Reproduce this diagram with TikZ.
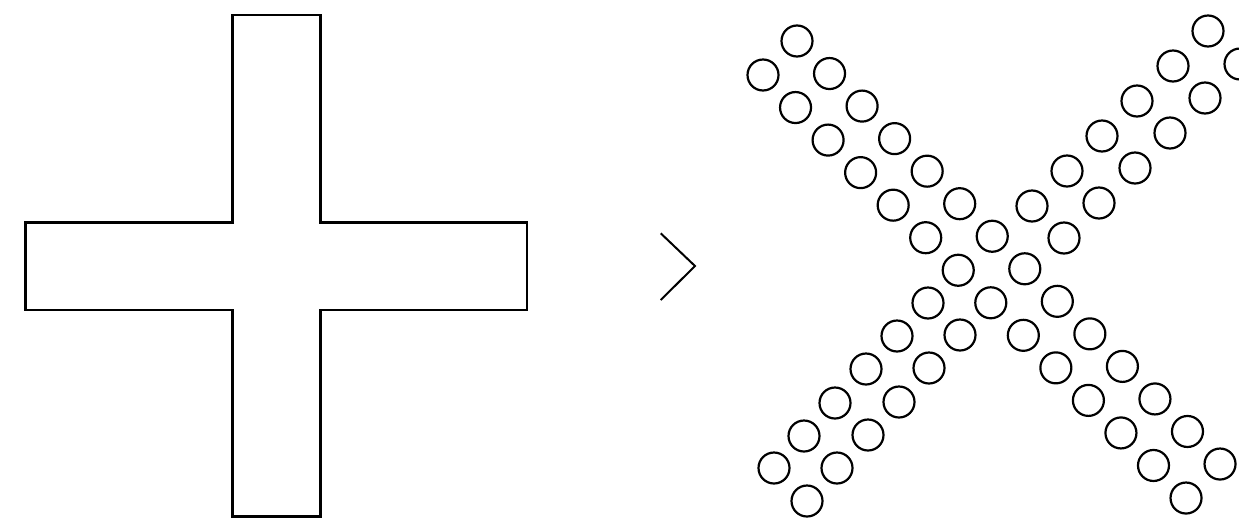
\documentclass[tikz,border=0pt]{standalone}
\usetikzlibrary{positioning}

\begin{document}
\begin{tikzpicture}[x=1pt,y=-1pt,
    outline/.style={draw=black,line width=2.6pt,line join=miter},
    ring/.style={draw=black,line width=2.2pt},
    chevron/.style={draw=black,line width=2pt}]
  \useasboundingbox (0,0) rectangle (1239,520);
  \clip (0,0) rectangle (1239,520);
  \draw[outline] (232.7,15) -- (320.3,15) -- (320.3,222.3) -- (527,222.3)
    -- (527,310) -- (320.3,310) -- (320.3,516.5) -- (232.7,516.5)
    -- (232.7,310) -- (25.3,310) -- (25.3,222.3) -- (232.7,222.3) -- cycle;
  \coordinate (chtop) at (660.7,233.3);
  \coordinate (chtip) at (695,266);
  \coordinate (chbot) at (660.7,300);
  \draw[chevron] (chtop) -- (chtip) -- (chbot);
  \foreach \k in {0,...,13}{
    \draw[ring] ({797+32.54*\k},{41+32.54*\k}) circle[radius=15.5pt];
    \draw[ring] ({763+32.54*\k},{75+32.54*\k}) circle[radius=15.5pt];
  }
  \foreach \px/\py in {1208/31,1173/66,1137/101,1102/136,1067/171,1032/206,
      928/303,897/336,866/369,835/403,804/436,774/468,
      1240/64,1205/98,1170/133,1135/168,1099/203,1064/238,
      960/335,929/368,899/402,868/435,837/468,807/501}
    \draw[ring] (\px,\py) circle[radius=15.5pt];
\end{tikzpicture}
\end{document}
